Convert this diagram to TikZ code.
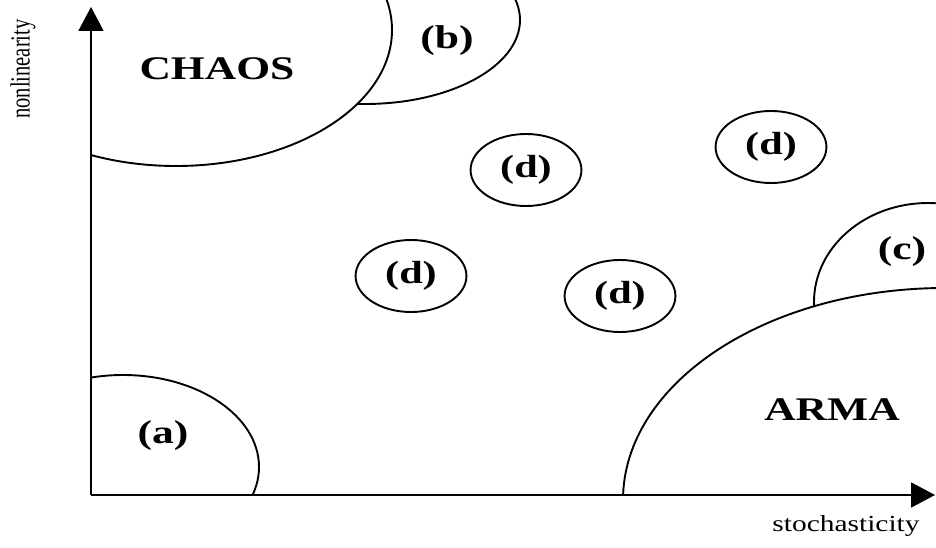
\documentclass[tikz,border=0pt]{standalone}
\usepackage{fontspec}
\setmainfont{Liberation Serif}
\usetikzlibrary{arrows.meta,shapes.geometric}
\tikzset{
  region/.style    ={line width=1.9pt},
  regionfill/.style={region, fill=white},
  axis/.style      ={line width=1.9pt, -{Triangle[length=24pt,width=25pt]}},
  rlabel/.style    ={font=\fontsize{33}{40}\selectfont\bfseries, inner sep=0pt, xscale=1.32},
  dblob/.style     ={ellipse, draw, line width=1.9pt, inner sep=0pt, xscale=1.32,
                     minimum width=84pt, minimum height=72pt,
                     font=\fontsize{32}{38}\selectfont\bfseries},
  xlabel/.style    ={font=\fontsize{23}{28}\selectfont, inner sep=0pt, xscale=1.28},
  ylabel/.style    ={font=\fontsize{20.5}{25}\selectfont, inner sep=0pt, xscale=1.35, rotate=90},
}

\begin{document}
\begin{tikzpicture}[x=1pt,y=1pt]
  \useasboundingbox (0,0) rectangle (936,547);
  % axes ends
  \coordinate (origin) at (91,52);
  \coordinate (ytip) at (91,540);
  \coordinate (xtip) at (935,52);
  % region centres
  \coordinate (bc) at (365,527);
  \coordinate (chaosc) at (176,517);
  \coordinate (cc) at (928,245);
  \coordinate (armac) at (945,47);
  \coordinate (ac) at (123,80);

  \begin{scope}
    \clip (origin) rectangle (936,547);
    \draw[region] (bc) ellipse [x radius=155, y radius=84];
    \draw[regionfill] (chaosc) ellipse [x radius=216, y radius=136];
    \draw[region] (cc) ellipse [x radius=114, y radius=99];
    \draw[regionfill] (armac) ellipse [x radius=322, y radius=212];
    \draw[region] (ac) ellipse [x radius=136, y radius=92];
  \end{scope}

  \node[dblob] (d1) at (526,377) {(d)};
  \node[dblob] (d2) at (411,271) {(d)};
  \node[dblob] (d3) at (620,251) {(d)};
  \node[dblob] (d4) at (771,400) {(d)};

  \node[rlabel] (chaos) at (217,478) {CHAOS};
  \node[rlabel] (arma) at (832,137) {ARMA};
  \node[rlabel] (la) at (163,111) {(a)};
  \node[rlabel] (lb) at (447,506) {(b)};
  \node[rlabel] (lc) at (902,295) {(c)};

  \draw[axis] (origin) -- (ytip);
  \draw[axis] (origin) -- (xtip);
  \node[ylabel] (ynl) at (23,478) {nonlinearity};
  \node[xlabel] (xst) at (846,21) {stochasticity};
\end{tikzpicture}
\end{document}
